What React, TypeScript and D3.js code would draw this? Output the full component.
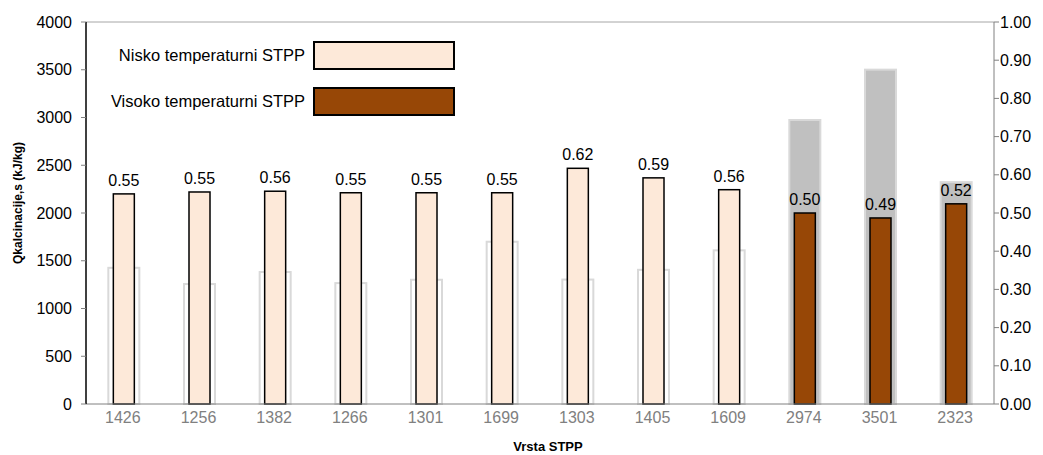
import React from "react";
import * as d3 from "d3";

const categories = ["1426", "1256", "1382", "1266", "1301", "1699", "1303", "1405", "1609", "2974", "3501", "2323"];
const qValues = [1426, 1256, 1382, 1266, 1301, 1699, 1303, 1405, 1609, 2974, 3501, 2323];
const ratioValues = [0.55, 0.555, 0.557, 0.553, 0.553, 0.553, 0.617, 0.592, 0.561, 0.5, 0.487, 0.524];
const ratioLabels = ["0.55", "0.55", "0.56", "0.55", "0.55", "0.55", "0.62", "0.59", "0.56", "0.50", "0.49", "0.52"];
const groups = ["low", "low", "low", "low", "low", "low", "low", "low", "low", "high", "high", "high"];
const leftTicks = [0, 500, 1000, 1500, 2000, 2500, 3000, 3500, 4000];
const rightTicks = [0, 0.1, 0.2, 0.3, 0.4, 0.5, 0.6, 0.7, 0.8, 0.9, 1.0];
const legendLabels = ["Nisko temperaturni STPP", "Visoko temperaturni STPP"];

const W = 1043, H = 455;
const M = { left: 86, right: 994, top: 22, bottom: 404 };
const FONT = "'Liberation Sans', Arial, Helvetica, sans-serif";

export default function App() {
  const x = d3.scaleBand<string>().domain(categories).range([M.left, M.right]).padding(0);
  const yL = d3.scaleLinear().domain([0, 4000]).range([M.bottom, M.top]);
  const yR = d3.scaleLinear().domain([0, 1]).range([M.bottom, M.top]);
  const bw = x.bandwidth();
  const fillFor = (g: string) => (g === "low" ? "#FDE9D9" : "#974706");
  return (
    <svg width={W} height={H} style={{ position: "absolute", left: 0, top: 0, background: "#fff", fontFamily: FONT }}>
      <line x1={M.left} x2={M.right} y1={M.top} y2={M.top} stroke="#a6a6a6" strokeWidth={1} />
      {categories.map((c, i) => {
        const cx = x(c)! + bw / 2;
        const w = 31;
        return (
          <rect key={"g" + c} x={cx - w / 2} y={yL(qValues[i])} width={w} height={M.bottom - yL(qValues[i])}
            fill={groups[i] === "low" ? "#ffffff" : "#c0c0c0"} stroke="#d9d9d9" strokeWidth={2} />
        );
      })}
      {categories.map((c, i) => {
        const cx = x(c)! + bw / 2;
        const w = 21;
        return (
          <g key={"f" + c}>
            <rect x={cx - w / 2} y={yR(ratioValues[i])} width={w} height={M.bottom - yR(ratioValues[i])}
              fill={fillFor(groups[i])} stroke="#000" strokeWidth={1.5} />
            <text x={cx} y={yR(ratioValues[i]) - 8} textAnchor="middle" fontFamily={FONT} fontSize={16} fill="#000">
              {ratioLabels[i]}
            </text>
          </g>
        );
      })}
      <line x1={M.left} x2={M.right} y1={M.bottom} y2={M.bottom} stroke="#808080" strokeWidth={1} />
      <line x1={M.left} x2={M.left} y1={M.top} y2={M.bottom} stroke="#000" strokeWidth={1.5} />
      <line x1={M.right} x2={M.right} y1={M.top} y2={M.bottom} stroke="#808080" strokeWidth={1} />
      {leftTicks.map((t) => (
        <g key={"lt" + t}>
          <line x1={M.left - 5} x2={M.left} y1={yL(t)} y2={yL(t)} stroke="#808080" />
          <text x={M.left - 14} y={yL(t) + 5.5} textAnchor="end" fontFamily={FONT} fontSize={16} fill="#000">{t}</text>
        </g>
      ))}
      {rightTicks.map((t) => (
        <g key={"rt" + t}>
          <line x1={M.right} x2={M.right + 5} y1={yR(t)} y2={yR(t)} stroke="#808080" />
          <text x={M.right + 6} y={yR(t) + 5.5} textAnchor="start" fontFamily={FONT} fontSize={16} fill="#000">{t.toFixed(2)}</text>
        </g>
      ))}
      {categories.map((c) => (
        <text key={"xl" + c} x={x(c)! + bw / 2 - 1} y={423} textAnchor="middle" fontFamily={FONT} fontSize={16} fill="#808080">{c}</text>
      ))}
      <text x={548} y={451} textAnchor="middle" fontFamily={FONT} fontSize={13} fontWeight="bold" fill="#000">Vrsta STPP</text>
      <text transform={`translate(22,203) rotate(-90)`} textAnchor="middle" fontFamily={FONT} fontSize={12} fontWeight="bold" fill="#000">Qkalcinacije,s (kJ/kg)</text>
      {legendLabels.map((l, i) => (
        <g key={"lg" + i}>
          <rect x={314} y={42 + i * 46} width={140} height={27} fill={i === 0 ? "#FDE9D9" : "#974706"} stroke="#000" strokeWidth={2} />
          <text x={305} y={61 + i * 46} textAnchor="end" fontFamily={FONT} fontSize={16.5} fill="#000">{l}</text>
        </g>
      ))}
    </svg>
  );
}
